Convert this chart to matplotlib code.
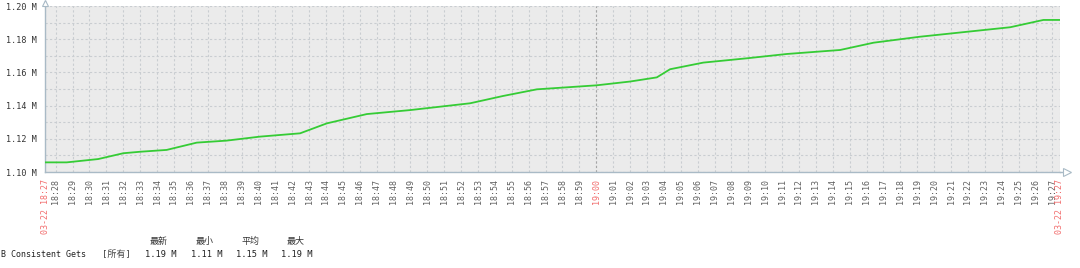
import matplotlib
matplotlib.use('Agg')
import matplotlib.pyplot as plt
from matplotlib.lines import Line2D

plt.rcParams['font.family'] = ['DejaVu Sans Mono', 'Noto Sans CJK SC']

# ---------------- data ----------------
date_label = "03-22"
times = ["18:27:22", "18:28:39", "18:30:31", "18:32:00", "18:33:00", "18:34:34",
         "18:36:21", "18:38:07", "18:40:05", "18:42:28", "18:44:03", "18:46:25",
         "18:48:59", "18:52:32", "18:54:29", "18:56:29", "19:00:00", "19:02:00",
         "19:03:35", "19:04:22", "19:06:20", "19:08:55", "19:11:17", "19:14:26",
         "19:16:25", "19:19:10", "19:24:30", "19:26:28", "19:27:27"]
values_m = [1.1058, 1.1058, 1.1078, 1.1113, 1.1122, 1.1133,
            1.1177, 1.1189, 1.1213, 1.1233, 1.1293, 1.1349,
            1.1373, 1.1414, 1.1458, 1.1498, 1.1522, 1.1545,
            1.1570, 1.1619, 1.1659, 1.1685, 1.1711, 1.1735,
            1.1779, 1.1815, 1.1872, 1.1916, 1.1916]
y_ticks = [1.10, 1.12, 1.14, 1.16, 1.18, 1.20]
y_minor = [1.11, 1.13, 1.15, 1.17, 1.19]
highlight_time = "19:00"
legend_name = "B Consistent Gets"
legend_scope = "[所有]"
legend_headers = ["最新", "最小", "平均", "最大"]
legend_values = ["1.19 M", "1.11 M", "1.15 M", "1.19 M"]

# ---------------- helpers ----------------
W, H = 1080, 268


def to_min(t):
    parts = [int(p) for p in t.split(':')]
    while len(parts) < 3:
        parts.append(0)
    h, m, s = parts
    return h * 60 + m + s / 60.0


base = to_min("18:27:00")
xs = [to_min(t) - base for t in times]

start_min = int(xs[0]) + 1
end_min = int(xs[-1])
tick_pos = [xs[0]]
tick_lab = [date_label + " " + times[0][:5]]
for m in range(start_min, end_min + 1):
    tot = int(base) + m
    tick_pos.append(m)
    tick_lab.append("%02d:%02d" % (tot // 60, tot % 60))
tick_pos.append(xs[-1])
tick_lab.append(date_label + " " + times[-1][:5])

RED = '#f26d6d'
GRAY = '#606060'
AXC = '#a9bac6'
GRID = '#c9cdd1'

fig = plt.figure(figsize=(W / 100, H / 100), dpi=100)
fig.patch.set_facecolor('white')
L, R, T, B = 45, 1060, 6, 172
ax = fig.add_axes([L / W, 1 - B / H, (R - L) / W, (B - T) / H])
ax.set_facecolor('#ebebeb')

ax.plot(xs, values_m, color='#35cc35', lw=1.3, zorder=3, solid_joinstyle='round')

ax.set_xlim(xs[0], xs[-1])
ax.set_ylim(y_ticks[0], y_ticks[-1])

ax.set_yticks(y_ticks)
ax.set_yticklabels(["%.2f M" % v for v in y_ticks])
ax.set_yticks(y_minor, minor=True)
ax.tick_params(axis='y', which='both', length=0, pad=6, labelsize=6.1, labelcolor='#333333')

ax.set_xticks(tick_pos)
ax.set_xticklabels(tick_lab, rotation=90, va='top', ha='center')
ax.tick_params(axis='x', length=0, pad=5, labelsize=6, labelcolor=GRAY)
for i, lab in enumerate(ax.get_xticklabels()):
    if i == 0 or i == len(tick_lab) - 1 or tick_lab[i] == highlight_time:
        lab.set_color(RED)

ax.grid(True, which='major', axis='x', color=GRID, linestyle=(0, (2, 2)), linewidth=0.8)
ax.grid(True, which='both', axis='y', color=GRID, linestyle=(0, (2, 2)), linewidth=0.8)
ax.set_axisbelow(True)
ax.axvline(tick_pos[tick_lab.index(highlight_time)], color='#a5a5a5',
           linestyle=(0, (2, 2)), linewidth=0.8, zorder=1)

for s in ['top', 'right']:
    ax.spines[s].set_visible(False)
for s in ['left', 'bottom']:
    ax.spines[s].set_color(AXC)
    ax.spines[s].set_linewidth(1.0)

# axis extensions and arrowheads (figure pixel coordinates)
fig.add_artist(Line2D([L / W, L / W], [1 - T / H, 1 - 1 / H], color=AXC, lw=1.0))
fig.add_artist(Line2D([R / W, 1063 / W], [1 - B / H, 1 - B / H], color=AXC, lw=1.0))
fig.add_artist(Line2D([L / W], [1 - 2.5 / H], marker='^', markersize=4,
                      markerfacecolor='white', markeredgecolor=AXC, markeredgewidth=0.8))
fig.add_artist(Line2D([1067 / W], [1 - B / H], marker='>', markersize=6,
                      markerfacecolor='white', markeredgecolor=AXC, markeredgewidth=0.8))

# legend / statistics
TXT = '#222222'
fig.text(1 / W, 1 - 254.5 / H, legend_name, fontsize=6.0, color=TXT, va='center', ha='left')
fig.text(102 / W, 1 - 254.5 / H, legend_scope, fontsize=6.5, color='#444444', va='center', ha='left')
val_x = [145, 191, 236, 281]
head_x = [159, 205, 250, 296]
for vx, hx, hv, vv in zip(val_x, head_x, legend_headers, legend_values):
    fig.text(hx / W, 1 - 241.5 / H, hv, fontsize=6.5, color='#333333', va='center', ha='center')
    fig.text(vx / W, 1 - 254.5 / H, vv, fontsize=6.3, color=TXT, va='center', ha='left')

fig.savefig('out.png', dpi=100, facecolor='white')
